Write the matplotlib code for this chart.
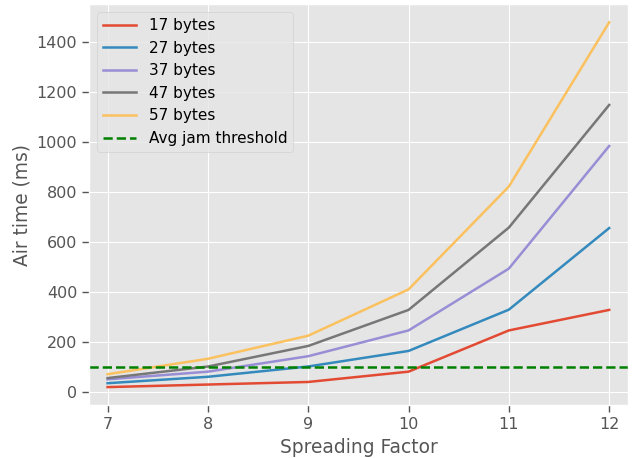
import matplotlib
matplotlib.use("Agg")
import matplotlib.pyplot as plt

plt.style.use("ggplot")

spreading_factor = [7, 8, 9, 10, 11, 12]
payloads = ["17 bytes", "27 bytes", "37 bytes", "47 bytes", "57 bytes"]
air_17 = [20.6, 30.8, 41.1, 82.2, 246.8, 328.7]
air_27 = [36.1, 61.7, 102.9, 164.9, 329.7, 655.4]
air_37 = [51.5, 82.2, 143.9, 246.8, 493.6, 983.0]
air_47 = [56.6, 102.7, 184.8, 328.7, 657.4, 1146.9]
air_57 = [72.0, 133.6, 225.8, 410.6, 821.2, 1476.6]
jam_threshold = 100

fig, ax = plt.subplots(figsize=(6.36, 4.58), dpi=100)
fig.subplots_adjust(left=0.14, right=0.987, top=0.991, bottom=0.115)

for label, vals in zip(payloads, [air_17, air_27, air_37, air_47, air_57]):
    ax.plot(spreading_factor, vals, label=label, linewidth=1.8)
ax.axhline(jam_threshold, color="green", linestyle="--", linewidth=1.8,
           label="Avg jam threshold")

ax.set_xlim(6.815, 12.185)
ax.set_xlabel("Spreading Factor", fontsize=13.4)
ax.set_ylabel("Air time (ms)", fontsize=13.4)
ax.tick_params(labelsize=11.5, length=5, width=1)
ax.legend(loc="upper left", fontsize=11, handlelength=2.2)

fig.savefig("out.png")
